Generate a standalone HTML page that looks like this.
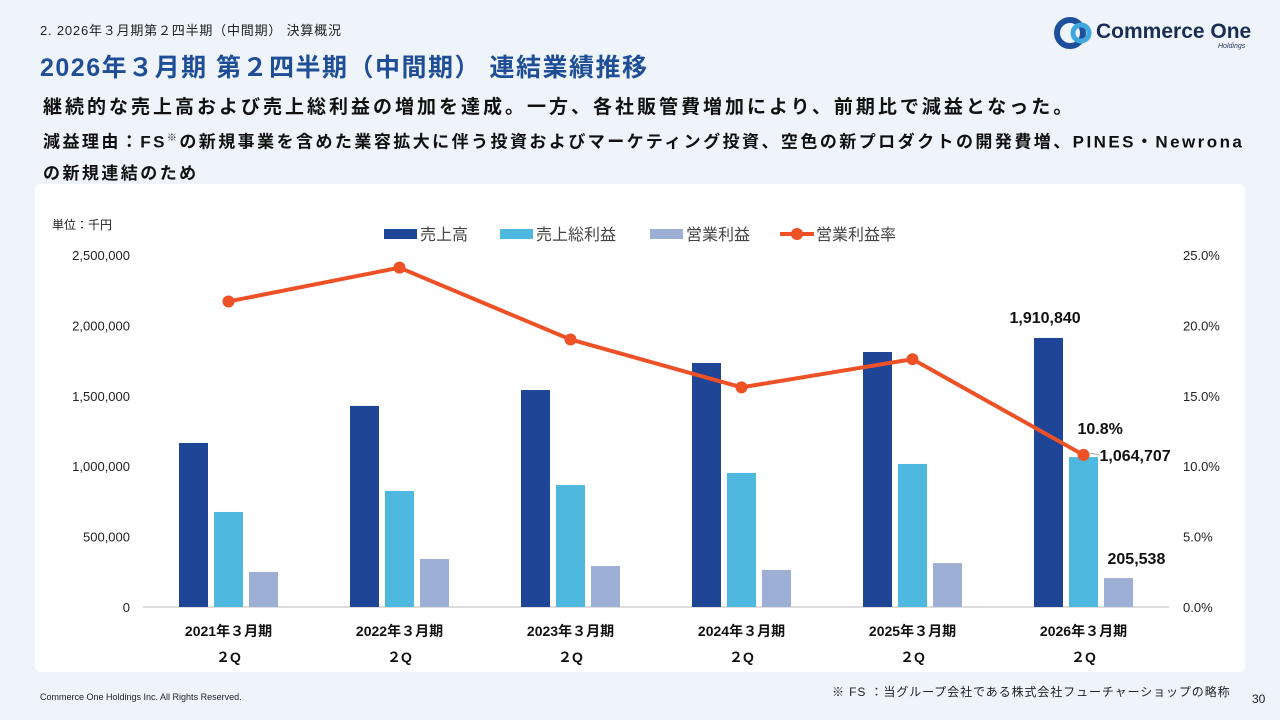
<!DOCTYPE html>
<html><head><meta charset="utf-8"><style>
body{margin:0;width:1280px;height:720px;background:#eef4fa;font-family:"Liberation Sans","Noto Sans CJK JP",sans-serif;position:relative;overflow:hidden}
.a{position:absolute;white-space:nowrap}
</style></head><body>
<div class="a" style="left:40px;top:20px;font-size:13px;color:#222;letter-spacing:0.8px">2. 2026年３月期第２四半期（中間期） 決算概況</div>
<div class="a" style="left:1054px;top:16px;width:200px;height:36px">
<svg width="40" height="36" style="position:absolute;left:0;top:0"><circle cx="16" cy="17" r="13" fill="none" stroke="#1d4f9c" stroke-width="6"/><circle cx="27" cy="17" r="8" fill="none" stroke="#3fa7dd" stroke-width="5"/></svg>
<span class="a" style="left:42px;top:4px;font-size:21px;font-weight:bold;color:#1b2d55">Commerce One</span>
<span class="a" style="left:164px;top:27px;font-size:7px;font-style:italic;color:#1b2d55">Holdings</span></div>
<div class="a" style="left:40px;top:48px;font-size:25px;font-weight:bold;color:#1f4e96;letter-spacing:1.5px">2026年３月期 第２四半期（中間期） 連結業績推移</div>
<div class="a" style="left:43px;top:92px;font-size:19px;font-weight:bold;color:#111;letter-spacing:3px">継続的な売上高および売上総利益の増加を達成。一方、各社販管費増加により、前期比で減益となった。</div>
<div class="a" style="left:43px;top:123px;font-size:17px;font-weight:bold;color:#111;line-height:31px;white-space:normal;width:1210px;letter-spacing:2.45px">減益理由：FS<sup style="font-size:10px;font-weight:normal">※</sup>の新規事業を含めた業容拡大に伴う投資およびマーケティング投資、空色の新プロダクトの開発費増、PINES・Newrona の新規連結のため</div>
<div class="a" style="left:35px;top:184px;width:1210px;height:488px;background:#fff;border-radius:6px"></div>
<svg id="chart" class="a" style="left:0;top:0" width="1280" height="720"></svg>
<div class="a" style="left:832px;top:683px;font-size:12px;color:#222;letter-spacing:0.9px">※ FS ：当グループ会社である株式会社フューチャーショップの略称</div>
<div class="a" style="left:40px;top:692px;font-size:9px;color:#222">Commerce One Holdings Inc. All Rights Reserved.</div>
<div class="a" style="left:1252px;top:692px;font-size:12px;color:#222">30</div>
<script>
const categories=["2021年３月期","2022年３月期","2023年３月期","2024年３月期","2025年３月期","2026年３月期"];
const sales=[1165000,1428000,1541000,1733000,1811000,1910840];
const grossProfit=[675000,824000,866000,952000,1016000,1064707];
const opProfit=[249000,341000,291000,263000,312000,205538];
const opMargin=[21.7,24.1,19.0,15.6,17.6,10.8];
const leftTicks=[0,500000,1000000,1500000,2000000,2500000];
const rightTicks=[0,5,10,15,20,25];
const svg=document.getElementById('chart');
const NS='http://www.w3.org/2000/svg';
const X0=143,STEP=171,Y0=607,H=352;
const xc=i=>X0+STEP*(i+0.5);
const yL=v=>Y0-v/2500000*H;
const yR=v=>Y0-v/25*H;
function mk(t,a,txt){const e=document.createElementNS(NS,t);for(const k in a)e.setAttribute(k,a[k]);if(txt!=null)e.textContent=txt;svg.appendChild(e);return e;}
const F='"Liberation Sans","Noto Sans CJK JP",sans-serif';
let e=mk('text',{x:52,y:229,'font-size':12,fill:'#222','font-family':F},'単位：千円');

leftTicks.forEach(v=>{const t=mk('text',{x:130,y:yL(v)+5,'font-size':13,fill:'#222','text-anchor':'end','font-family':F},v.toLocaleString('en-US'));
});
rightTicks.forEach(v=>{const t=mk('text',{x:1183,y:yR(v)+5,'font-size':13,fill:'#222','font-family':F},v.toFixed(1)+'%');
});
e=mk('line',{x1:X0,x2:X0+STEP*6,y1:Y0,y2:Y0,stroke:'#bbb','stroke-width':1});

const series=[[sales,'#1f4597',-35,'bar-sales'],[grossProfit,'#4eb8df',0,'bar-gross-profit'],[opProfit,'#9eafd6',35,'bar-operating-profit']];
categories.forEach((c,i)=>{
series.forEach(s=>{const v=s[0][i];const r=mk('rect',{x:xc(i)+s[2]-14.5,y:yL(v),width:29,height:Y0-yL(v),fill:s[1]});
});
const t=mk('text',{x:xc(i),y:636,'font-size':14,'font-weight':'bold',fill:'#111','text-anchor':'middle','font-family':F},c);

const q=mk('text',{x:xc(i),y:662,'font-size':14,'font-weight':'bold',fill:'#111','text-anchor':'middle','font-family':F},'２Q');

});
e=mk('polyline',{points:opMargin.map((v,i)=>xc(i)+','+yR(v)).join(' '),fill:'none',stroke:'#ee5126','stroke-width':4});

opMargin.forEach((v,i)=>{const c=mk('circle',{cx:xc(i),cy:yR(v),r:6,fill:'#ee5126'});
});
const L=5;
const lab=(x,y,txt,n)=>{const t=mk('text',{x:x,y:y,'font-size':16,'font-weight':'bold',fill:'#111','font-family':F},txt);};
lab(xc(L)-74,yL(sales[L])-15,sales[L].toLocaleString('en-US'),'label-sales');
lab(xc(L)+16,yL(grossProfit[L])+4,grossProfit[L].toLocaleString('en-US'),'label-gross-profit');
lab(xc(L)+24,yL(opProfit[L])-14,opProfit[L].toLocaleString('en-US'),'label-operating-profit');
lab(xc(L)-6,yR(opMargin[L])-21,opMargin[L].toFixed(1)+'%','label-operating-margin');
e=mk('line',{x1:xc(L)+6,y1:yR(opMargin[L])-2,x2:xc(L)+16,y2:yL(grossProfit[L])-2,stroke:'#aaa','stroke-width':1});

const leg=[['売上高','#1f4597',384,'rect'],['売上総利益','#4eb8df',500,'rect'],['営業利益','#9eafd6',650,'rect'],['営業利益率','#ee5126',780,'line']];
leg.forEach(l=>{let m;if(l[3]=='rect'){m=mk('rect',{x:l[2],y:229,width:33,height:10,fill:l[1]});}else{m=mk('line',{x1:l[2],x2:l[2]+34,y1:234,y2:234,stroke:l[1],'stroke-width':4});mk('circle',{cx:l[2]+17,cy:234,r:6,fill:l[1]});}

const t=mk('text',{x:l[2]+36,y:240,'font-size':16,fill:'#444','font-family':F},l[0]);
});
</script>
</body></html>
